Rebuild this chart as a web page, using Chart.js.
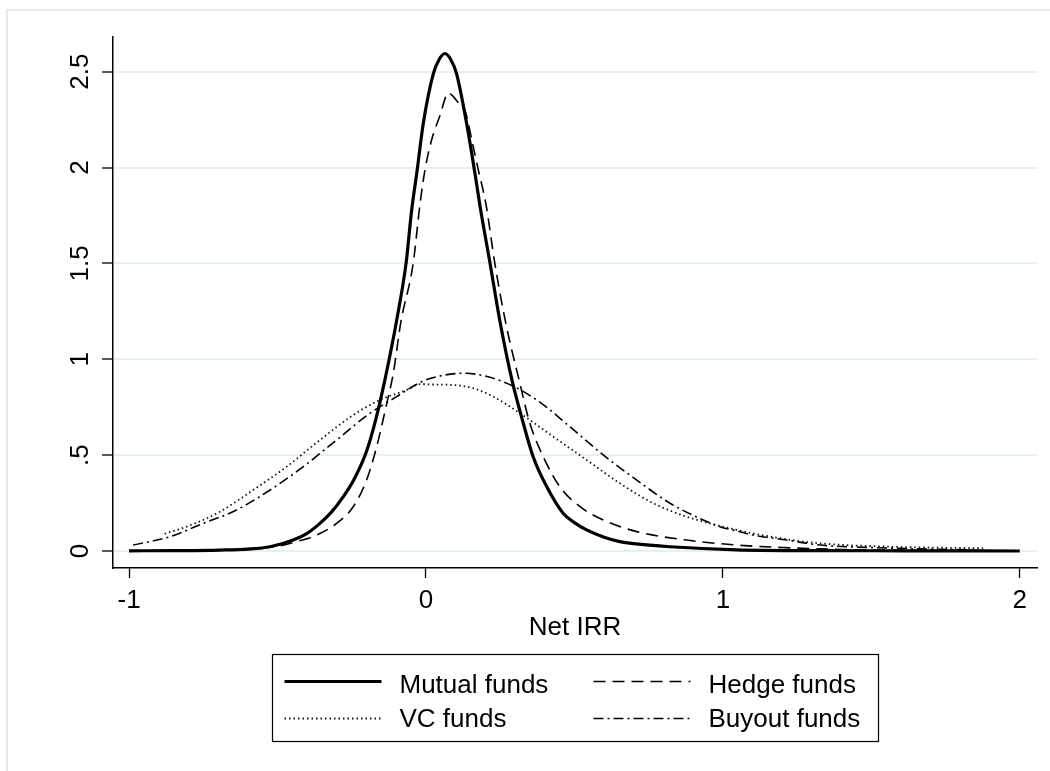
<!DOCTYPE html>
<html>
<head>
<meta charset="utf-8">
<script src="https://cdn.jsdelivr.net/npm/chart.js@4.4.1/dist/chart.umd.min.js"></script>
<style>
  html, body { margin: 0; padding: 0; background: #ffffff; }
  #wrap { position: relative; width: 1050px; height: 771px; }
</style>
</head>
<body>
<div id="wrap"><canvas id="chart" width="1050" height="771"></canvas></div>
<script>
// Axis ticks
const xTickValues = [-1, 0, 1, 2];
const yTickValues = [0, 0.5, 1, 1.5, 2, 2.5];
const yTickLabels = ['0', '.5', '1', '1.5', '2', '2.5'];
const xAxisTitle = 'Net IRR';
const seriesNames = ['Mutual funds', 'Hedge funds', 'VC funds', 'Buyout funds'];

// Kernel density estimates of net IRR, one pair of arrays per fund type
const mutualX = [-1.0, -0.85, -0.694, -0.6, -0.525, -0.447, -0.4, -0.36, -0.32, -0.28, -0.24, -0.2, -0.17,
  -0.14, -0.12, -0.099, -0.067, -0.048, -0.031, -0.009, 0.025, 0.045, 0.064, 0.083, 0.103, 0.137, 0.165,
  0.182, 0.216, 0.249, 0.29, 0.328, 0.361, 0.407, 0.462, 0.5, 0.541, 0.6, 0.653, 0.7, 0.822, 1.046, 1.3, 1.6, 2.0];
const mutualY = [0.001, 0.002, 0.005, 0.01, 0.022, 0.057, 0.092, 0.14, 0.2, 0.28, 0.38, 0.52, 0.68,
  0.88, 1.03, 1.20, 1.50, 1.78, 1.97, 2.23, 2.49, 2.565, 2.595, 2.565, 2.49, 2.23, 1.97,
  1.80, 1.50, 1.20, 0.89, 0.666, 0.492, 0.335, 0.197, 0.148, 0.11, 0.072, 0.049, 0.038, 0.022, 0.006, 0.002, 0.001, 0.0];

const hedgeX = [-1.0, -0.8, -0.6, -0.5, -0.436, -0.368, -0.301, -0.245, -0.2, -0.166, -0.132, -0.11,
  -0.085, -0.043, -0.02, -0.003, 0.019, 0.047, 0.075, 0.115, 0.131, 0.159, 0.176, 0.202, 0.232,
  0.27, 0.314, 0.35, 0.395, 0.451, 0.519, 0.597, 0.71, 0.878, 1.046, 1.2, 1.4, 1.7, 2.0];
const hedgeY = [0.001, 0.002, 0.01, 0.025, 0.049, 0.083, 0.144, 0.231, 0.37, 0.544, 0.77, 0.927,
  1.19, 1.50, 1.81, 1.99, 2.144, 2.27, 2.388, 2.327, 2.30, 2.11, 1.99, 1.81, 1.50,
  1.18, 0.89, 0.666, 0.492, 0.335, 0.231, 0.162, 0.101, 0.057, 0.031, 0.018, 0.008, 0.003, 0.001];

const vcX = [-0.88, -0.806, -0.694, -0.582, -0.469, -0.357, -0.245, -0.155, -0.065, -0.02, 0.036,
  0.092, 0.159, 0.227, 0.317, 0.429, 0.541, 0.653, 0.766, 0.878, 1.046, 1.159, 1.327, 1.552, 1.877];
const vcY = [0.09, 0.127, 0.205, 0.318, 0.44, 0.579, 0.709, 0.788, 0.84, 0.87, 0.868,
  0.866, 0.849, 0.805, 0.718, 0.596, 0.475, 0.353, 0.249, 0.179, 0.11, 0.075, 0.04, 0.023, 0.014];

const buyoutX = [-0.986, -0.862, -0.75, -0.638, -0.525, -0.413, -0.301, -0.189, -0.099, -0.02, 0.036,
  0.126, 0.26, 0.373, 0.485, 0.597, 0.71, 0.822, 0.934, 0.99, 1.046, 1.102, 1.215, 1.327, 1.5, 1.7, 1.85];
const buyoutY = [0.031, 0.075, 0.144, 0.214, 0.318, 0.44, 0.579, 0.718, 0.805, 0.879, 0.909,
  0.927, 0.883, 0.788, 0.648, 0.501, 0.37, 0.249, 0.162, 0.127, 0.105, 0.083, 0.057, 0.031, 0.018, 0.01, 0.006];

const toPoints = (xs, ys) => xs.map((x, i) => ({ x: x, y: ys[i] }));

const FONT = '"Liberation Sans", Arial, sans-serif';

// Light outer frame of the graph region
const framePlugin = {
  id: 'graphFrame',
  beforeDraw(chart) {
    const ctx = chart.ctx;
    ctx.save();
    ctx.fillStyle = '#ffffff';
    ctx.fillRect(0, 0, chart.width, chart.height);
    ctx.strokeStyle = '#e2e2e2';
    ctx.lineWidth = 1.5;
    ctx.strokeRect(7, 10, chart.width + 20, chart.height + 20);
    ctx.restore();
  }
};

// Boxed two-column legend under the axis title
const boxLegendPlugin = {
  id: 'boxLegend',
  afterDraw(chart) {
    const ctx = chart.ctx;
    const area = chart.chartArea;
    const boxW = 606, boxH = 87;
    const bx = Math.round((area.left + area.right) / 2 - boxW / 2) + 0.5;
    const by = 654.5;
    ctx.save();
    ctx.strokeStyle = '#000000';
    ctx.lineWidth = 1.2;
    ctx.setLineDash([]);
    ctx.strokeRect(bx, by, boxW, boxH);
    chart.data.datasets.forEach((ds, i) => {
      const col = i % 2, row = Math.floor(i / 2);
      const lx = bx + 12 + col * 309;
      const ly = by + 27 + row * 37;
      ctx.save();
      ctx.setLineDash(ds.borderDash || []);
      ctx.lineWidth = ds.borderWidth;
      ctx.strokeStyle = ds.borderColor;
      ctx.lineCap = 'butt';
      ctx.beginPath();
      ctx.moveTo(lx, ly);
      ctx.lineTo(lx + 97, ly);
      ctx.stroke();
      ctx.restore();
      ctx.fillStyle = '#000000';
      ctx.font = '26px ' + FONT;
      ctx.textBaseline = 'alphabetic';
      ctx.textAlign = 'left';
      ctx.fillText(ds.label, lx + 115, by + 38 + row * 34);
    });
    ctx.restore();
  }
};

const lineBase = { pointRadius: 0, fill: false, cubicInterpolationMode: 'monotone', borderColor: '#000000' };

new Chart(document.getElementById('chart'), {
  type: 'line',
  data: {
    datasets: [
      Object.assign({}, lineBase, { label: seriesNames[0], data: toPoints(mutualX, mutualY), borderWidth: 3.2, borderDash: [] }),
      Object.assign({}, lineBase, { label: seriesNames[1], data: toPoints(hedgeX, hedgeY), borderWidth: 1.6, borderDash: [12, 7] }),
      Object.assign({}, lineBase, { label: seriesNames[2], data: toPoints(vcX, vcY), borderWidth: 1.8, borderDash: [1.5, 3], borderColor: '#111111' }),
      Object.assign({}, lineBase, { label: seriesNames[3], data: toPoints(buyoutX, buyoutY), borderWidth: 1.6, borderDash: [10, 4, 2, 4] })
    ]
  },
  options: {
    responsive: false,
    animation: false,
    devicePixelRatio: 1,
    layout: { padding: { left: 0, right: 13, top: 37, bottom: 0 } },
    plugins: {
      legend: { display: false },
      tooltip: { enabled: false },
      title: { display: false }
    },
    scales: {
      x: {
        type: 'linear',
        min: -1.054,
        max: 2.058,
        afterBuildTicks: (scale) => { scale.ticks = xTickValues.map(v => ({ value: v })); },
        afterFit: (scale) => { scale.height = 203; },
        grid: { drawOnChartArea: false, drawTicks: true, tickLength: 10, tickColor: '#000000', tickWidth: 1.3 },
        border: { display: true, color: '#000000', width: 1.5 },
        ticks: {
          color: '#000000',
          font: { family: FONT, size: 26 },
          padding: 7,
          maxRotation: 0,
          minRotation: 0,
          callback: (v) => String(v)
        },
        title: {
          display: true,
          text: xAxisTitle,
          color: '#000000',
          font: { family: FONT, size: 26 },
          padding: { top: 0, bottom: 128 }
        }
      },
      y: {
        type: 'linear',
        min: -0.0887,
        max: 2.681,
        afterBuildTicks: (scale) => { scale.ticks = yTickValues.map(v => ({ value: v })); },
        afterFit: (scale) => { scale.width = 113; },
        grid: { color: '#e6eff1', lineWidth: 2, drawTicks: true, tickLength: 11, tickColor: '#000000', tickWidth: 1.3 },
        border: { display: true, color: '#000000', width: 1.5 },
        ticks: {
          color: '#000000',
          font: { family: FONT, size: 26 },
          padding: 3,
          minRotation: 90,
          maxRotation: 90,
          crossAlign: 'center',
          callback: (v) => {
            const i = yTickValues.indexOf(v);
            return i >= 0 ? yTickLabels[i] : '';
          }
        }
      }
    }
  },
  plugins: [framePlugin, boxLegendPlugin]
});
</script>
</body>
</html>
